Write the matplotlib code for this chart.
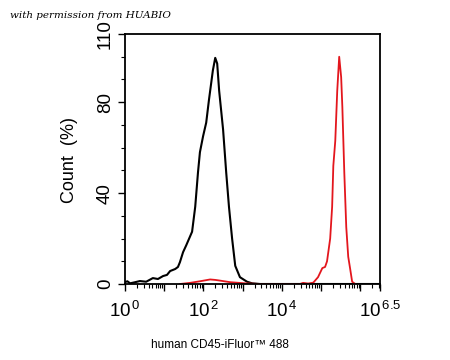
import numpy as np
import matplotlib
matplotlib.use('Agg')
import matplotlib.pyplot as plt
from matplotlib.ticker import FixedLocator, NullFormatter

plt.rcParams['font.family'] = ['Liberation Sans', 'DejaVu Sans']
plt.rcParams['mathtext.fontset'] = 'custom'
plt.rcParams['mathtext.rm'] = 'Liberation Sans'
plt.rcParams['mathtext.it'] = 'Liberation Sans'

#************************************
# Data (log10 of intensity, count %)
#************************************
black_log = [0.0, 0.06, 0.13, 0.26, 0.38, 0.54, 0.71, 0.84, 0.97, 1.07, 1.15, 1.28,
             1.35, 1.40, 1.48, 1.56, 1.61, 1.71, 1.79, 1.86, 1.91, 1.99, 2.07, 2.14,
             2.24, 2.30, 2.35, 2.40, 2.50, 2.58, 2.65, 2.73, 2.81, 2.93, 3.11, 3.24,
             3.44, 6.5]
black_cnt = [0.8, 1.2, 0.3, 0.8, 1.3, 1.0, 2.6, 2.2, 3.5, 4.0, 5.7, 6.6,
             7.5, 9.6, 14, 17, 19, 23, 34, 49, 58, 65, 71, 81,
             94, 99.5, 97, 85, 68, 49, 34, 20, 8, 3, 1, 0.3,
             0, 0]

red_log = [1.40, 1.66, 1.91, 2.17, 2.30, 2.42, 2.68, 3.06, 3.44, 4.46, 4.54, 4.67,
           4.80, 4.92, 5.03, 5.10, 5.15, 5.23, 5.28, 5.31, 5.36, 5.41, 5.46, 5.51,
           5.54, 5.59, 5.64, 5.69, 5.74, 5.79, 5.87]
red_cnt = [0, 0.5, 1.2, 2.0, 1.8, 1.5, 0.8, 0.3, 0, 0, 0.5, 0.2,
           0.6, 3, 7, 7.5, 10, 20, 34, 52, 63, 85, 100, 91,
           78, 49, 25, 12, 6.6, 1, 0]

x_major = [0, 1, 2, 3, 4, 5, 6, 6.5]
x_labels = {0: r'$10^{\,0}$', 2: r'$10^{\,2}$', 4: r'$10^{\,4}$', 6.5: r'$10^{\,6.5}$'}
y_major = [0, 40, 80, 110]
y_minor = [10, 20, 30, 50, 60, 70, 90, 100]

#************************************
# Plot
#************************************
fig = plt.figure(figsize=(4.5, 3.6), dpi=100)
ax = fig.add_axes([125/450, 1-284/360, 255/450, 250/360])

ax.plot(10**np.array(black_log), black_cnt, color='black', lw=1.5)
ax.plot(10**np.array(red_log), red_cnt, color='#e3161d', lw=1.3)

ax.set_xscale('log')
ax.set_xlim(1, 10**6.5)
ax.set_ylim(0, 110)

ax.xaxis.set_major_locator(FixedLocator([10**v for v in x_major]))
ax.set_xticklabels([x_labels.get(v, '') for v in x_major])
minors = [m*10**d for d in range(7) for m in range(2, 10) if m*10**d < 10**6.5]
ax.xaxis.set_minor_locator(FixedLocator(minors))
ax.xaxis.set_minor_formatter(NullFormatter())

ax.yaxis.set_major_locator(FixedLocator(y_major))
ax.yaxis.set_minor_locator(FixedLocator(y_minor))
ax.set_yticklabels([str(v) for v in y_major], rotation=90, va='center')

ax.tick_params(axis='both', which='major', direction='out', length=5, width=1,
               labelsize=13.5, pad=3)
ax.tick_params(axis='x', which='major', pad=7)
ax.tick_params(axis='both', which='minor', direction='out', length=3, width=0.8)
for s in ax.spines.values():
    s.set_linewidth(1.3)

fig.text(70/450, 1-160/360, 'Count  (%)', rotation=90, ha='center', va='center',
         fontsize=13)
fig.text(220/450, 1-345/360, 'human CD45-iFluor\u2122 488', ha='center',
         va='center', fontsize=8.5)
fig.text(10/450, 1-16/360, 'with permission from HUABIO', ha='left', va='center',
         fontsize=7.5, style='italic', family='DejaVu Serif')

fig.savefig('out.png', dpi=100)
